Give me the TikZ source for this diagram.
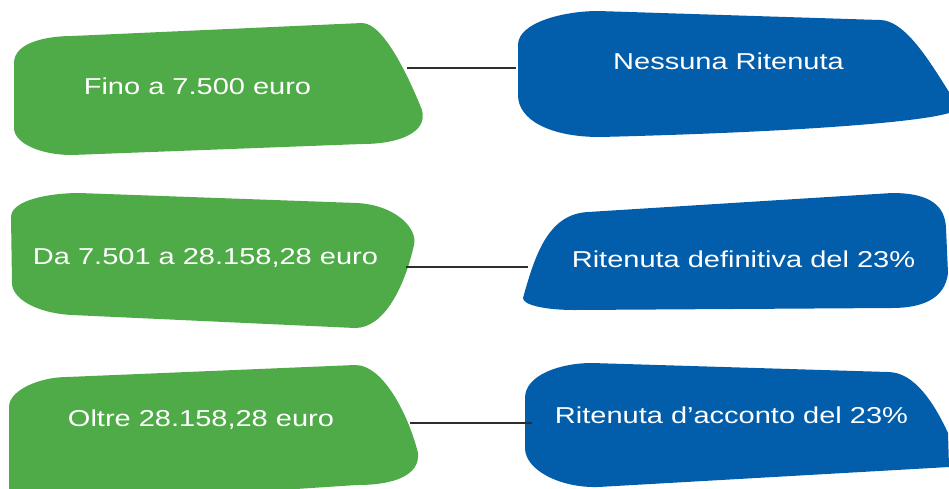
\documentclass[tikz,border=0pt]{standalone}
\usepackage{fontspec}
\setmainfont{Liberation Sans}
\definecolor{gfill}{RGB}{79,171,72}
\definecolor{bfill}{RGB}{2,94,170}
\definecolor{conn}{RGB}{45,45,45}
\tikzset{
  lbl/.style={text=white, anchor=base, inner sep=0pt, font=\fontsize{10}{12}\selectfont},
  link/.style={draw=conn, line width=2.7pt},
}
\newcommand{\stx}[1]{\scalebox{2.9}[2.3]{#1}}
\begin{document}
\begin{tikzpicture}[x=1pt,y=-1pt]
\useasboundingbox (0,0) rectangle (949,488);
\clip (0,0) rectangle (949,488);
% row 1
\fill[gfill] (14,63) .. controls (14,42) and (48,36) .. (72,36) -- (362,23)
  .. controls (385,23) and (412,85) .. (422,110)
  .. controls (428,132) and (400,144) .. (362,144) -- (72,155)
  .. controls (40,155) and (14,143) .. (14,128) -- cycle;
\fill[bfill] (518,45) .. controls (518,22) and (565,11) .. (598,11) -- (880,20)
  .. controls (905,20) and (930,62) .. (949,92) -- (949,113)
  .. controls (920,122) and (800,132) .. (600,137)
  .. controls (550,137) and (518,120) .. (518,95) -- cycle;
% row 2
\fill[gfill] (11,217) .. controls (11,200) and (50,193) .. (79,193) -- (357,203)
  .. controls (395,205) and (418,228) .. (414,245)
  .. controls (405,285) and (385,328) .. (355,328) -- (72,315)
  .. controls (35,313) and (12,298) .. (12,283) -- cycle;
\fill[bfill] (523,298) .. controls (535,255) and (548,214) .. (588,212) -- (892,193)
  .. controls (932,193) and (945,207) .. (946,228) -- (948,273)
  .. controls (945,300) and (920,308) .. (892,308) -- (575,310)
  .. controls (545,310) and (523,305) .. (523,298) -- cycle;
% row 3
\fill[gfill] (9,407) .. controls (9,390) and (40,377) .. (67,377) -- (355,365)
  .. controls (385,365) and (410,420) .. (418,453)
  .. controls (420,475) and (395,485) .. (357,485) -- (250,492) -- (9,495) -- cycle;
\fill[bfill] (525,398) .. controls (525,375) and (560,363) .. (592,363) -- (888,372)
  .. controls (915,372) and (935,405) .. (948,433) -- (949,467)
  -- (598,487) .. controls (560,488) and (525,470) .. (525,448) -- cycle;
% labels
\node[lbl] (g1) at (197.5,94) {\stx{Fino a 7.500 euro}};
\node[lbl] (b1) at (728.5,69) {\stx{Nessuna Ritenuta}};
\node[lbl] (g2) at (205.5,264) {\stx{Da 7.501 a 28.158,28 euro}};
\node[lbl] (b2) at (743.5,267) {\stx{Ritenuta definitiva del 23\%}};
\node[lbl] (g3) at (201,426) {\stx{Oltre 28.158,28 euro}};
\node[lbl] (b3) at (731.5,423) {\stx{Ritenuta d’acconto del 23\%}};
% connectors
\coordinate (g1r) at (407,68);
\coordinate (b1l) at (516,68);
\coordinate (g2r) at (406,267);
\coordinate (b2l) at (528,267);
\coordinate (g3r) at (410,423);
\coordinate (b3l) at (532,423);
\draw[link] (g1r) -- (b1l);
\draw[link] (g2r) -- (b2l);
\draw[link] (g3r) -- (b3l);
\end{tikzpicture}
\end{document}
